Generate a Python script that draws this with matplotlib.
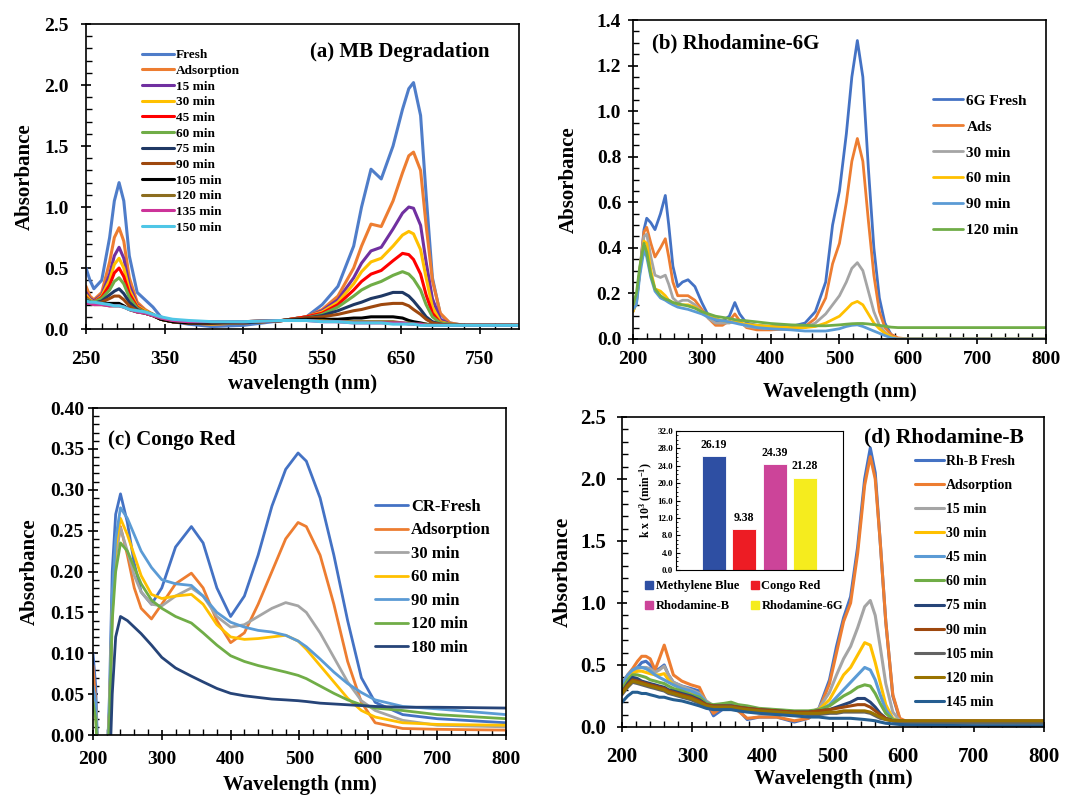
import numpy as np
import matplotlib
matplotlib.use('Agg')
from matplotlib import pyplot as plt
from matplotlib.ticker import MultipleLocator, FixedLocator, FormatStrFormatter
from matplotlib.lines import Line2D

plt.rcParams['font.family'] = ['Liberation Serif', 'DejaVu Serif']
plt.rcParams['font.weight'] = 'bold'
plt.rcParams['axes.labelweight'] = 'bold'
plt.rcParams['mathtext.fontset'] = 'custom'
plt.rcParams['mathtext.rm'] = 'Liberation Serif:bold'
plt.rcParams['mathtext.default'] = 'rm'

# ---------------- (a) MB degradation ----------------
mb_wl = [250, 255, 260, 270, 280, 286, 292, 298, 305, 315, 325, 335, 345, 360, 380, 410, 450, 500,
         530, 550, 570, 590, 600, 612, 625, 640, 652, 660, 666, 675, 682, 690, 700, 712, 730, 800]
mb_fresh = [0.50, 0.40, 0.33, 0.40, 0.75, 1.05, 1.20, 1.05, 0.60, 0.30, 0.24, 0.18, 0.10, 0.06, 0.04, 0.02, 0.03, 0.07,
            0.10, 0.20, 0.35, 0.68, 1.00, 1.31, 1.23, 1.50, 1.80, 1.97, 2.02, 1.75, 1.10, 0.42, 0.12, 0.05, 0.03, 0.03]
mb_ads = [0.35, 0.27, 0.24, 0.30, 0.55, 0.75, 0.83, 0.72, 0.42, 0.22, 0.16, 0.12, 0.08, 0.06, 0.05, 0.04, 0.05, 0.07,
          0.10, 0.16, 0.27, 0.50, 0.68, 0.86, 0.84, 1.05, 1.28, 1.42, 1.45, 1.30, 0.85, 0.40, 0.13, 0.05, 0.03, 0.03]
mb_15 = [0.30, 0.25, 0.23, 0.28, 0.45, 0.60, 0.67, 0.58, 0.36, 0.20, 0.15, 0.12, 0.08, 0.06, 0.05, 0.04, 0.05, 0.07,
         0.10, 0.15, 0.24, 0.42, 0.54, 0.64, 0.67, 0.82, 0.95, 1.00, 0.99, 0.85, 0.55, 0.25, 0.08, 0.04, 0.03, 0.03]
mb_30 = [0.28, 0.24, 0.22, 0.27, 0.40, 0.53, 0.58, 0.50, 0.32, 0.19, 0.15, 0.12, 0.08, 0.06, 0.05, 0.04, 0.05, 0.07,
         0.10, 0.14, 0.22, 0.37, 0.47, 0.55, 0.58, 0.68, 0.77, 0.80, 0.78, 0.65, 0.42, 0.18, 0.06, 0.04, 0.03, 0.03]
mb_45 = [0.26, 0.23, 0.22, 0.26, 0.36, 0.46, 0.50, 0.43, 0.29, 0.18, 0.14, 0.12, 0.08, 0.06, 0.05, 0.05, 0.05, 0.07,
         0.10, 0.13, 0.20, 0.32, 0.39, 0.45, 0.48, 0.56, 0.62, 0.61, 0.57, 0.45, 0.28, 0.13, 0.05, 0.04, 0.03, 0.03]
mb_60 = [0.25, 0.23, 0.22, 0.25, 0.32, 0.39, 0.42, 0.37, 0.26, 0.17, 0.14, 0.12, 0.08, 0.06, 0.05, 0.05, 0.05, 0.07,
         0.09, 0.12, 0.18, 0.27, 0.32, 0.36, 0.39, 0.44, 0.47, 0.45, 0.41, 0.32, 0.20, 0.10, 0.05, 0.04, 0.03, 0.03]
mb_75 = [0.24, 0.22, 0.21, 0.23, 0.28, 0.31, 0.33, 0.29, 0.22, 0.16, 0.13, 0.11, 0.08, 0.06, 0.05, 0.05, 0.05, 0.07,
         0.09, 0.11, 0.15, 0.20, 0.22, 0.25, 0.27, 0.30, 0.30, 0.27, 0.23, 0.16, 0.10, 0.06, 0.04, 0.03, 0.03, 0.03]
mb_90 = [0.23, 0.22, 0.21, 0.22, 0.25, 0.27, 0.27, 0.24, 0.19, 0.15, 0.13, 0.11, 0.08, 0.06, 0.05, 0.05, 0.06, 0.07,
         0.09, 0.10, 0.12, 0.15, 0.16, 0.18, 0.20, 0.21, 0.21, 0.19, 0.16, 0.12, 0.08, 0.05, 0.04, 0.03, 0.03, 0.03]
mb_105 = [0.22, 0.21, 0.21, 0.21, 0.21, 0.21, 0.21, 0.19, 0.16, 0.14, 0.13, 0.11, 0.08, 0.06, 0.05, 0.05, 0.06, 0.07,
          0.08, 0.08, 0.08, 0.09, 0.09, 0.10, 0.10, 0.10, 0.09, 0.07, 0.06, 0.05, 0.04, 0.03, 0.03, 0.03, 0.03, 0.03]
mb_120 = [0.21, 0.21, 0.20, 0.20, 0.19, 0.19, 0.19, 0.18, 0.16, 0.14, 0.13, 0.11, 0.09, 0.07, 0.06, 0.06, 0.06, 0.07,
          0.07, 0.07, 0.06, 0.06, 0.06, 0.06, 0.06, 0.06, 0.05, 0.05, 0.04, 0.04, 0.04, 0.03, 0.03, 0.03, 0.03, 0.03]
mb_135 = [0.21, 0.21, 0.20, 0.20, 0.19, 0.19, 0.19, 0.18, 0.16, 0.14, 0.13, 0.11, 0.09, 0.07, 0.06, 0.06, 0.06, 0.07,
          0.07, 0.06, 0.06, 0.05, 0.05, 0.05, 0.05, 0.05, 0.05, 0.04, 0.04, 0.04, 0.03, 0.03, 0.03, 0.03, 0.03, 0.03]
mb_150 = [0.23, 0.22, 0.22, 0.21, 0.20, 0.19, 0.19, 0.18, 0.16, 0.15, 0.14, 0.12, 0.10, 0.08, 0.07, 0.06, 0.06, 0.07,
          0.07, 0.06, 0.06, 0.05, 0.05, 0.05, 0.05, 0.04, 0.04, 0.04, 0.04, 0.03, 0.03, 0.03, 0.03, 0.03, 0.03, 0.03]
mb_labels = ['Fresh', 'Adsorption', '15 min', '30 min', '45 min', '60 min', '75 min', '90 min',
             '105 min', '120 min', '135 min', '150 min']
mb_colors = ['#4F7DC9', '#ED7D31', '#7030A0', '#FFC000', '#FF0000', '#70AD47', '#1F3864', '#9E480E',
             '#000000', '#8C6D1F', '#CC3399', '#4FC6E6']

# ---------------- (b) Rhodamine-6G ----------------
r6g_wl = [200, 205, 210, 216, 220, 226, 232, 240, 247, 252, 258, 265, 272, 280, 290, 300, 310, 320, 330, 340, 348, 355,
          365, 380, 400, 430, 450, 465, 480, 490, 500, 510, 518, 526, 534, 542, 550, 558, 566, 575, 585, 600, 700, 800]
r6g_fresh = [0.13, 0.17, 0.30, 0.48, 0.53, 0.51, 0.48, 0.55, 0.63, 0.50, 0.32, 0.23, 0.25, 0.26, 0.23, 0.16, 0.10, 0.08,
             0.08, 0.10, 0.16, 0.11, 0.07, 0.06, 0.055, 0.055, 0.07, 0.12, 0.25, 0.50, 0.65, 0.90, 1.15, 1.31, 1.15,
             0.75, 0.40, 0.18, 0.07, 0.02, 0.0, 0.0, 0.0, 0.0]
r6g_ads = [0.12, 0.16, 0.30, 0.47, 0.49, 0.42, 0.36, 0.40, 0.44, 0.36, 0.25, 0.19, 0.19, 0.19, 0.17, 0.13, 0.09, 0.06,
           0.06, 0.08, 0.11, 0.08, 0.05, 0.04, 0.04, 0.045, 0.055, 0.09, 0.18, 0.33, 0.42, 0.60, 0.78, 0.88, 0.78,
           0.52, 0.28, 0.12, 0.05, 0.02, 0.005, 0.0, 0.0, 0.0]
r6g_30 = [0.12, 0.16, 0.30, 0.45, 0.46, 0.36, 0.28, 0.27, 0.28, 0.24, 0.18, 0.16, 0.17, 0.17, 0.15, 0.12, 0.09, 0.07,
          0.07, 0.07, 0.08, 0.07, 0.055, 0.05, 0.045, 0.045, 0.05, 0.07, 0.11, 0.15, 0.19, 0.25, 0.31, 0.335, 0.30,
          0.21, 0.12, 0.06, 0.03, 0.01, 0.0, 0.0, 0.0, 0.0]
r6g_60 = [0.12, 0.16, 0.30, 0.43, 0.42, 0.30, 0.22, 0.21, 0.19, 0.17, 0.16, 0.15, 0.15, 0.15, 0.14, 0.12, 0.10, 0.09,
          0.08, 0.075, 0.075, 0.07, 0.065, 0.06, 0.055, 0.05, 0.05, 0.055, 0.07, 0.085, 0.10, 0.13, 0.155, 0.165, 0.15,
          0.11, 0.07, 0.045, 0.025, 0.01, 0.0, 0.0, 0.0, 0.0]
r6g_90 = [0.13, 0.15, 0.28, 0.39, 0.36, 0.27, 0.21, 0.18, 0.17, 0.16, 0.15, 0.14, 0.135, 0.13, 0.12, 0.11, 0.095, 0.085,
          0.08, 0.075, 0.07, 0.065, 0.06, 0.05, 0.045, 0.04, 0.035, 0.035, 0.035, 0.04, 0.045, 0.055, 0.06, 0.062,
          0.055, 0.045, 0.035, 0.025, 0.015, 0.005, 0.0, 0.0, 0.0, 0.0]
r6g_120 = [0.15, 0.20, 0.32, 0.42, 0.38, 0.28, 0.22, 0.19, 0.175, 0.17, 0.16, 0.155, 0.15, 0.145, 0.135, 0.12, 0.11, 0.10,
           0.095, 0.09, 0.085, 0.082, 0.08, 0.075, 0.068, 0.062, 0.06, 0.058, 0.058, 0.06, 0.062, 0.065, 0.067, 0.068,
           0.068, 0.066, 0.063, 0.06, 0.056, 0.052, 0.05, 0.05, 0.05, 0.05]
r6g_labels = ['6G Fresh', 'Ads', '30 min', '60 min', '90 min', '120 min']
r6g_colors = ['#4472C4', '#ED7D31', '#A5A5A5', '#FFC000', '#5B9BD5', '#70AD47']

# ---------------- (c) Congo Red ----------------
cr_wl = [200, 204, 208, 213, 220, 224, 228, 233, 240, 250, 260, 270, 285, 300, 320, 343, 360, 380, 400, 420, 440,
         460, 480, 498, 510, 530, 550, 570, 590, 610, 650, 700, 800]
cr_fresh = [0.10, 0.06, -0.05, -0.05, -0.05, 0.05, 0.20, 0.27, 0.295, 0.26, 0.21, 0.175, 0.160, 0.180, 0.230, 0.255,
            0.235, 0.180, 0.145, 0.170, 0.220, 0.280, 0.325, 0.345, 0.335, 0.290, 0.220, 0.140, 0.070, 0.040, 0.025,
            0.020, 0.015]
cr_ads = [0.085, 0.04, -0.05, -0.05, -0.05, 0.03, 0.15, 0.22, 0.255, 0.22, 0.180, 0.155, 0.142, 0.160, 0.185, 0.198,
          0.180, 0.140, 0.113, 0.125, 0.160, 0.200, 0.240, 0.260, 0.255, 0.220, 0.160, 0.090, 0.040, 0.015, 0.008,
          0.007, 0.006]
cr_30 = [0.06, 0.03, -0.05, -0.05, -0.05, 0.03, 0.15, 0.22, 0.253, 0.225, 0.195, 0.175, 0.160, 0.158, 0.170, 0.180,
         0.170, 0.145, 0.132, 0.135, 0.145, 0.155, 0.162, 0.158, 0.150, 0.125, 0.095, 0.065, 0.042, 0.030, 0.018,
         0.012, 0.010]
cr_60 = [0.05, 0.03, -0.05, -0.05, -0.05, 0.03, 0.16, 0.23, 0.265, 0.245, 0.220, 0.195, 0.172, 0.167, 0.170, 0.172,
         0.160, 0.135, 0.120, 0.117, 0.118, 0.120, 0.122, 0.115, 0.105, 0.085, 0.065, 0.045, 0.030, 0.022, 0.015,
         0.013, 0.012]
cr_90 = [0.06, 0.04, -0.05, -0.05, -0.05, 0.03, 0.17, 0.24, 0.278, 0.265, 0.245, 0.225, 0.205, 0.190, 0.185, 0.183,
         0.170, 0.150, 0.138, 0.132, 0.128, 0.126, 0.122, 0.115, 0.108, 0.093, 0.077, 0.063, 0.052, 0.043, 0.035,
         0.032, 0.025]
cr_120 = [0.04, 0.02, -0.05, -0.05, -0.05, 0.02, 0.14, 0.20, 0.235, 0.225, 0.205, 0.185, 0.165, 0.155, 0.145, 0.137,
          0.125, 0.110, 0.097, 0.090, 0.085, 0.081, 0.077, 0.073, 0.069, 0.060, 0.051, 0.043, 0.037, 0.033, 0.030,
          0.025, 0.020]
cr_180 = [-0.05, -0.05, -0.05, -0.05, -0.05, -0.05, 0.05, 0.12, 0.145, 0.140, 0.132, 0.124, 0.110, 0.095, 0.082, 0.072,
          0.065, 0.057, 0.051, 0.048, 0.046, 0.044, 0.043, 0.042, 0.041, 0.039, 0.038, 0.037, 0.036, 0.035, 0.034,
          0.034, 0.033]
cr_labels = ['CR-Fresh', 'Adsorption', '30 min', '60 min', '90 min', '120 min', '180 min']
cr_colors = ['#4472C4', '#ED7D31', '#A5A5A5', '#FFC000', '#5B9BD5', '#70AD47', '#264478']

# ---------------- (d) Rhodamine-B ----------------
rhb_wl = [200, 208, 215, 222, 228, 234, 240, 247, 253, 260, 266, 273, 285, 298, 310, 320, 330, 345, 355, 365, 378,
          395, 420, 445, 465, 480, 495, 505, 515, 525, 535, 545, 553, 560, 567, 575, 585, 595, 610, 700, 800]
rhb_fresh = [0.35, 0.40, 0.44, 0.48, 0.52, 0.53, 0.50, 0.45, 0.47, 0.50, 0.42, 0.36, 0.33, 0.31, 0.29, 0.20, 0.09,
             0.15, 0.17, 0.14, 0.06, 0.08, 0.08, 0.04, 0.07, 0.15, 0.38, 0.65, 0.88, 1.05, 1.45, 2.00, 2.25, 2.05,
             1.50, 0.85, 0.25, 0.06, 0.02, 0.01, 0.01]
rhb_ads = [0.35, 0.42, 0.47, 0.53, 0.57, 0.57, 0.55, 0.46, 0.55, 0.66, 0.55, 0.42, 0.37, 0.34, 0.32, 0.20, 0.11,
           0.17, 0.18, 0.13, 0.07, 0.08, 0.08, 0.05, 0.07, 0.14, 0.35, 0.60, 0.85, 1.00, 1.40, 1.95, 2.18, 2.00,
           1.50, 0.85, 0.26, 0.07, 0.03, 0.03, 0.03]
rhb_15 = [0.33, 0.40, 0.44, 0.47, 0.48, 0.48, 0.47, 0.44, 0.46, 0.49, 0.42, 0.36, 0.33, 0.30, 0.27, 0.21, 0.17,
          0.17, 0.17, 0.15, 0.13, 0.12, 0.11, 0.10, 0.11, 0.15, 0.28, 0.42, 0.55, 0.65, 0.80, 0.97, 1.02, 0.90,
          0.65, 0.35, 0.12, 0.05, 0.03, 0.03, 0.03]
rhb_30 = [0.33, 0.40, 0.43, 0.45, 0.45, 0.44, 0.43, 0.42, 0.42, 0.43, 0.38, 0.34, 0.31, 0.28, 0.26, 0.20, 0.17,
          0.17, 0.17, 0.15, 0.14, 0.13, 0.12, 0.11, 0.12, 0.14, 0.22, 0.32, 0.42, 0.48, 0.58, 0.68, 0.66, 0.52,
          0.36, 0.18, 0.07, 0.04, 0.04, 0.04, 0.04]
rhb_45 = [0.35, 0.42, 0.46, 0.48, 0.48, 0.47, 0.45, 0.42, 0.40, 0.38, 0.36, 0.34, 0.31, 0.29, 0.26, 0.20, 0.17,
          0.18, 0.18, 0.16, 0.14, 0.13, 0.12, 0.11, 0.11, 0.13, 0.18, 0.24, 0.30, 0.36, 0.42, 0.48, 0.46, 0.38,
          0.26, 0.14, 0.06, 0.04, 0.04, 0.04, 0.04]
rhb_60 = [0.30, 0.38, 0.42, 0.42, 0.41, 0.40, 0.38, 0.37, 0.36, 0.35, 0.33, 0.31, 0.29, 0.26, 0.24, 0.19, 0.18,
          0.19, 0.20, 0.18, 0.17, 0.15, 0.14, 0.13, 0.13, 0.14, 0.17, 0.21, 0.25, 0.28, 0.32, 0.34, 0.33, 0.27,
          0.19, 0.11, 0.06, 0.05, 0.04, 0.04, 0.04]
rhb_75 = [0.28, 0.35, 0.40, 0.39, 0.37, 0.36, 0.35, 0.34, 0.33, 0.32, 0.30, 0.29, 0.27, 0.25, 0.22, 0.18, 0.17,
          0.17, 0.17, 0.16, 0.15, 0.14, 0.13, 0.12, 0.12, 0.13, 0.14, 0.16, 0.18, 0.20, 0.23, 0.23, 0.20, 0.16,
          0.11, 0.07, 0.05, 0.04, 0.04, 0.04, 0.04]
rhb_90 = [0.28, 0.34, 0.38, 0.37, 0.36, 0.35, 0.34, 0.33, 0.32, 0.31, 0.29, 0.28, 0.26, 0.24, 0.21, 0.18, 0.17,
          0.17, 0.17, 0.16, 0.15, 0.14, 0.13, 0.12, 0.12, 0.13, 0.14, 0.15, 0.16, 0.17, 0.18, 0.18, 0.16, 0.13,
          0.10, 0.07, 0.05, 0.05, 0.05, 0.05, 0.05]
rhb_105 = [0.26, 0.32, 0.36, 0.35, 0.34, 0.33, 0.32, 0.31, 0.30, 0.29, 0.27, 0.26, 0.24, 0.22, 0.19, 0.17, 0.16,
           0.16, 0.16, 0.15, 0.14, 0.13, 0.12, 0.11, 0.10, 0.10, 0.11, 0.11, 0.12, 0.12, 0.12, 0.12, 0.11, 0.09,
           0.07, 0.06, 0.05, 0.04, 0.04, 0.04, 0.04]
rhb_120 = [0.27, 0.33, 0.37, 0.36, 0.35, 0.34, 0.33, 0.32, 0.31, 0.30, 0.28, 0.27, 0.25, 0.23, 0.20, 0.17, 0.16,
           0.16, 0.16, 0.15, 0.14, 0.13, 0.12, 0.11, 0.11, 0.11, 0.12, 0.12, 0.13, 0.13, 0.13, 0.13, 0.12, 0.10,
           0.08, 0.06, 0.05, 0.05, 0.05, 0.05, 0.05]
rhb_145 = [0.20, 0.25, 0.28, 0.28, 0.27, 0.27, 0.26, 0.25, 0.24, 0.24, 0.23, 0.22, 0.21, 0.19, 0.17, 0.15, 0.14,
           0.14, 0.14, 0.13, 0.12, 0.11, 0.10, 0.09, 0.08, 0.08, 0.07, 0.07, 0.07, 0.07, 0.065, 0.06, 0.055, 0.05,
           0.04, 0.03, 0.025, 0.02, 0.015, 0.01, 0.01]
rhb_labels = ['Rh-B Fresh', 'Adsorption', '15 min', '30 min', '45 min', '60 min', '75 min', '90 min',
              '105 min', '120 min', '145 min']
rhb_colors = ['#4472C4', '#ED7D31', '#A5A5A5', '#FFC000', '#5B9BD5', '#70AD47', '#264478', '#9E480E',
              '#636363', '#997300', '#255E91']

# ---------------- inset: rate constants ----------------
k_dyes = ['Methylene Blue', 'Congo Red', 'Rhodamine-B', 'Rhodamine-6G']
k_values = [26.19, 9.38, 24.39, 21.28]
k_colors = ['#2E4FA3', '#ED1C24', '#CC4499', '#F5EC1E']


def style_axes(ax, xlim, ylim, xticks, ymajor, yminor, yfmt, xminor_start,
               size=14, xpad=3, ypad=3):
    ax.set_xlim(*xlim)
    ax.set_ylim(*ylim)
    ax.set_xticks(xticks)
    ax.xaxis.set_minor_locator(FixedLocator(np.arange(xminor_start, xlim[1] + 1, 20)))
    ax.yaxis.set_major_locator(MultipleLocator(ymajor))
    ax.yaxis.set_minor_locator(MultipleLocator(yminor))
    ax.yaxis.set_major_formatter(FormatStrFormatter(yfmt))
    ax.tick_params(which='major', direction='inout', length=7, width=1.2, labelsize=size)
    ax.tick_params(axis='x', which='major', pad=xpad)
    ax.tick_params(axis='y', which='major', pad=ypad)
    ax.tick_params(which='minor', direction='in', length=4, width=1.0)
    ax.tick_params(top=False, right=False, which='both')
    for s in ax.spines.values():
        s.set_linewidth(1.2)
    for lab in ax.get_xticklabels() + ax.get_yticklabels():
        lab.set_fontweight('bold')


def draw_panel(ax, wl, series, labels, colors, lw=2.0):
    for y, lab, c in zip(series, labels, colors):
        ax.plot(wl, y, color=c, lw=lw, label=lab, solid_capstyle='round')


fig = plt.figure(figsize=(10.71, 7.98), dpi=100)

ax_a = fig.add_axes([0.0803, 0.5877, 0.4043, 0.3822])
ax_b = fig.add_axes([0.5910, 0.5752, 0.3856, 0.3997])
ax_c = fig.add_axes([0.0868, 0.0789, 0.3856, 0.4098])
ax_d = fig.add_axes([0.5808, 0.0890, 0.3940, 0.3885])

# (a)
draw_panel(ax_a, mb_wl, [mb_fresh, mb_ads, mb_15, mb_30, mb_45, mb_60, mb_75, mb_90,
                         mb_105, mb_120, mb_135, mb_150], mb_labels, mb_colors, lw=2.2)
style_axes(ax_a, (250, 800), (0, 2.5), [250, 350, 450, 550, 650, 750], 0.5, 0.1, '%.1f', 250,
           size=14, xpad=12, ypad=9)
ax_a.set_ylabel('Absorbance', fontsize=15, labelpad=7)
ax_a.set_xlabel('wavelength (nm)', fontsize=15, labelpad=5)
ax_a.text(0.517, 0.908, '(a) MB Degradation', transform=ax_a.transAxes, fontsize=15,
          fontweight='bold', ha='left', va='center')
ax_a.legend(loc='upper left', bbox_to_anchor=(0.129, 0.918), frameon=False,
            handlelength=2.4, handletextpad=0.15, labelspacing=0.26, borderpad=0, borderaxespad=0,
            prop={'weight': 'bold', 'size': 9.5})

# (b)
draw_panel(ax_b, r6g_wl, [r6g_fresh, r6g_ads, r6g_30, r6g_60, r6g_90, r6g_120], r6g_labels, r6g_colors)
style_axes(ax_b, (200, 800), (0, 1.4), [200, 300, 400, 500, 600, 700, 800], 0.2, 0.05, '%.1f', 200,
           size=14, xpad=5, ypad=5)
ax_b.set_ylabel('Absorbance', fontsize=15, labelpad=13)
ax_b.set_xlabel('Wavelength (nm)', fontsize=15, labelpad=10)
ax_b.text(0.046, 0.928, '(b) Rhodamine-6G', transform=ax_b.transAxes, fontsize=15,
          fontweight='bold', ha='left', va='center')
ax_b.legend(loc='upper left', bbox_to_anchor=(0.726, 0.768), frameon=False,
            handlelength=2.0, handletextpad=0.2, labelspacing=0.8, borderpad=0, borderaxespad=0,
            prop={'weight': 'bold', 'size': 11})

# (c)
draw_panel(ax_c, cr_wl, [cr_fresh, cr_ads, cr_30, cr_60, cr_90, cr_120, cr_180], cr_labels, cr_colors)
style_axes(ax_c, (200, 800), (0, 0.40), [200, 300, 400, 500, 600, 700, 800], 0.05, 0.01, '%.2f', 200,
           size=14, xpad=8, ypad=3)
ax_c.set_ylabel('Absorbance', fontsize=15, labelpad=7)
ax_c.set_xlabel('Wavelength (nm)', fontsize=15, labelpad=5)
ax_c.text(0.036, 0.902, '(c) Congo Red', transform=ax_c.transAxes, fontsize=15,
          fontweight='bold', ha='left', va='center')
ax_c.legend(loc='upper left', bbox_to_anchor=(0.683, 0.722), frameon=False,
            handlelength=2.0, handletextpad=0.15, labelspacing=0.45, borderpad=0, borderaxespad=0,
            prop={'weight': 'bold', 'size': 12})

# (d)
draw_panel(ax_d, rhb_wl, [rhb_fresh, rhb_ads, rhb_15, rhb_30, rhb_45, rhb_60, rhb_75, rhb_90,
                          rhb_105, rhb_120, rhb_145], rhb_labels, rhb_colors, lw=2.2)
style_axes(ax_d, (200, 800), (0, 2.5), [200, 300, 400, 500, 600, 700, 800], 0.5, 0.1, '%.1f', 200,
           size=15, xpad=11, ypad=8)
ax_d.set_ylabel('Absorbance', fontsize=15.5, labelpad=5)
ax_d.set_xlabel('Wavelength (nm)', fontsize=15.5, labelpad=1)
ax_d.text(0.573, 0.935, '(d) Rhodamine-B', transform=ax_d.transAxes, fontsize=15.5,
          fontweight='bold', ha='left', va='center')
ax_d.legend(loc='upper left', bbox_to_anchor=(0.694, 0.878), frameon=False,
            handlelength=2.1, handletextpad=0.15, labelspacing=0.8, borderpad=0, borderaxespad=0,
            prop={'weight': 'bold', 'size': 10})

# inset bar chart
ax_in = fig.add_axes([0.6312, 0.2857, 0.1559, 0.1742])
pos = np.arange(len(k_values))
bars = ax_in.bar(pos, k_values, width=0.79, color=k_colors, edgecolor='white', linewidth=0.6)
for b, v in zip(bars, k_values):
    ax_in.text(b.get_x() + b.get_width() / 2, v + 1.2, '%.2f' % v, ha='center', va='bottom',
               fontsize=8.5, fontweight='bold')
ax_in.set_xlim(-1.25, 4.25)
ax_in.set_ylim(0, 32)
ax_in.set_xticks([])
ax_in.yaxis.set_major_locator(MultipleLocator(4))
ax_in.yaxis.set_minor_locator(MultipleLocator(1))
ax_in.yaxis.set_major_formatter(FormatStrFormatter('%.1f'))
ax_in.tick_params(which='major', direction='in', length=3, width=0.8, labelsize=6.5, pad=2)
ax_in.tick_params(which='minor', direction='in', length=1.5, width=0.6)
for lab in ax_in.get_yticklabels():
    lab.set_fontweight('bold')
ax_in.set_ylabel(r'k x 10$^{3}$ (min$^{-1}$)', fontsize=8.5, labelpad=2)
handles = [Line2D([], [], ls='none', marker='s', markersize=6, color=c) for c in k_colors]
order = [0, 2, 1, 3]
ax_in.legend([handles[i] for i in order], [k_dyes[i] for i in order], ncol=2,
             loc='upper left', bbox_to_anchor=(-0.22, -0.03), frameon=False,
             handlelength=0.6, handletextpad=0.2, columnspacing=1.0, labelspacing=0.6,
             borderpad=0, prop={'weight': 'bold', 'size': 9})

fig.savefig('out.png', dpi=100)
